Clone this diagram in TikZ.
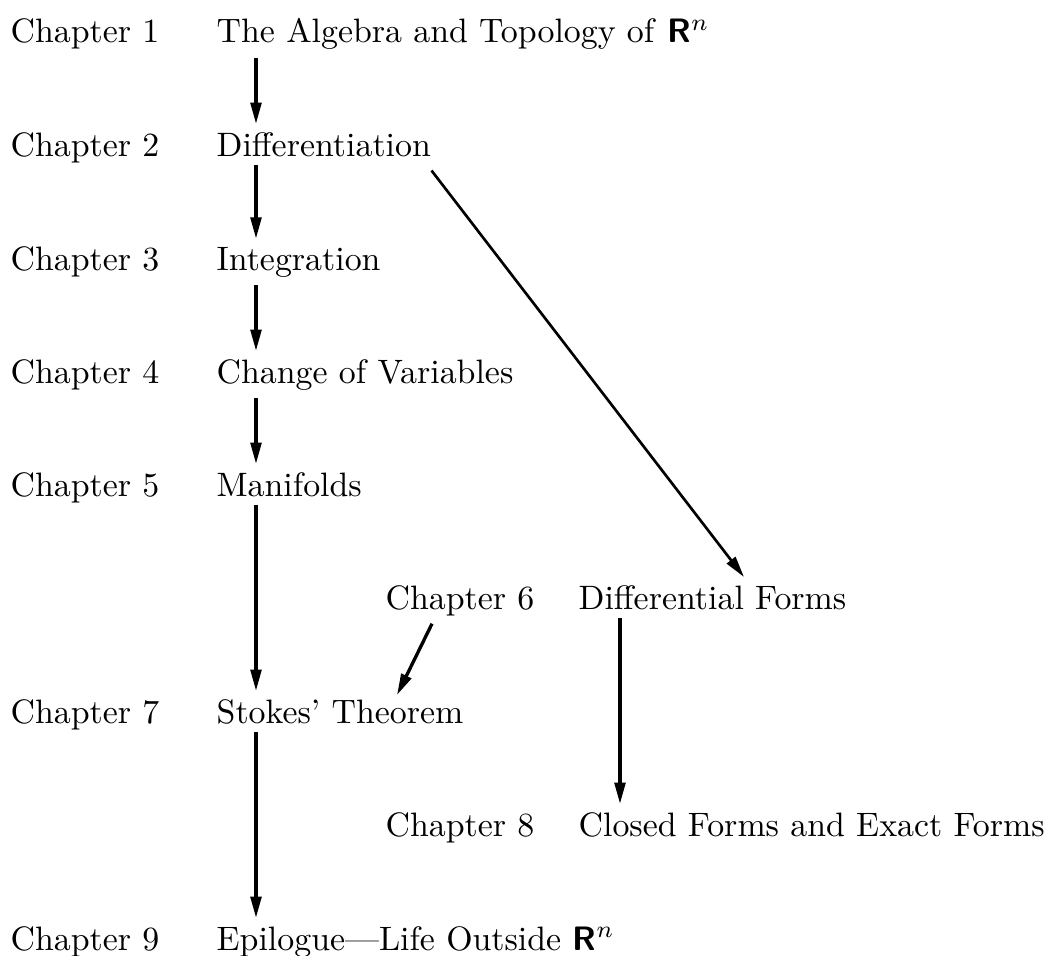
\documentclass[tikz,border=0pt]{standalone}
\usetikzlibrary{arrows.meta,calc}
\begin{document}
\begin{tikzpicture}[x=0.75pt,y=-0.75pt,
  lab/.style={anchor=base west, inner xsep=0pt, inner ysep=2.2pt, scale=2.54, font=\normalsize},
  arr/.style={-{Triangle[length=16pt,width=8pt]}, line width=2.5pt},
  darr/.style={-{Triangle[length=16pt,width=8pt]}, line width=2pt}]
\useasboundingbox (0,0) rectangle (1049,956);
\def\RR{\textsf{\textbf{R}}$^n$}
% chapter labels
\node[lab] (c1) at (10,43) {Chapter 1};
\node[lab] (c2) at (10,156) {Chapter 2};
\node[lab] (c3) at (10,270) {Chapter 3};
\node[lab] (c4) at (10,383) {Chapter 4};
\node[lab] (c5) at (10,496) {Chapter 5};
\node[lab] (c6) at (385,609) {Chapter 6};
\node[lab] (c7) at (10,723) {Chapter 7};
\node[lab] (c8) at (385,836) {Chapter 8};
\node[lab] (c9) at (10,950) {Chapter 9};
% titles
\node[lab] (t1) at (216,43) {The Algebra and Topology of \RR};
\node[lab] (t2) at (216,156) {Differentiation};
\node[lab] (t3) at (216,270) {Integration};
\node[lab] (t4) at (216,383) {Change of Variables};
\node[lab] (t5) at (216,496) {Manifolds};
\node[lab] (t6) at (578,609) {Differential Forms};
\node[lab] (t7) at (216,723) {Stokes' Theorem};
\node[lab] (t8) at (578,836) {Closed Forms and Exact Forms};
\node[lab] (t9) at (216,950) {Epilogue---Life Outside \RR};
% columns
\coordinate (colA) at (256,0);
\coordinate (colB) at (620,0);
\draw[arr] (t1.south -| colA) -- (t2.north -| colA);
\draw[arr] (t2.south -| colA) -- (t3.north -| colA);
\draw[arr] (t3.south -| colA) -- (t4.north -| colA);
\draw[arr] (t4.south -| colA) -- (t5.north -| colA);
\draw[arr] (t5.south -| colA) -- (t7.north -| colA);
\draw[arr] (t7.south -| colA) -- (t9.north -| colA);
\draw[darr] ($(t2.south east)+(0,6)$) -- ($(t6.north west)+(166,0)$);
\draw[arr] ($(c6.south west)+(47,0)$) -- ($(t7.north west)+(181,4)$);
\draw[arr] (t6.south -| colB) -- (t8.north -| colB);
\end{tikzpicture}
\end{document}
